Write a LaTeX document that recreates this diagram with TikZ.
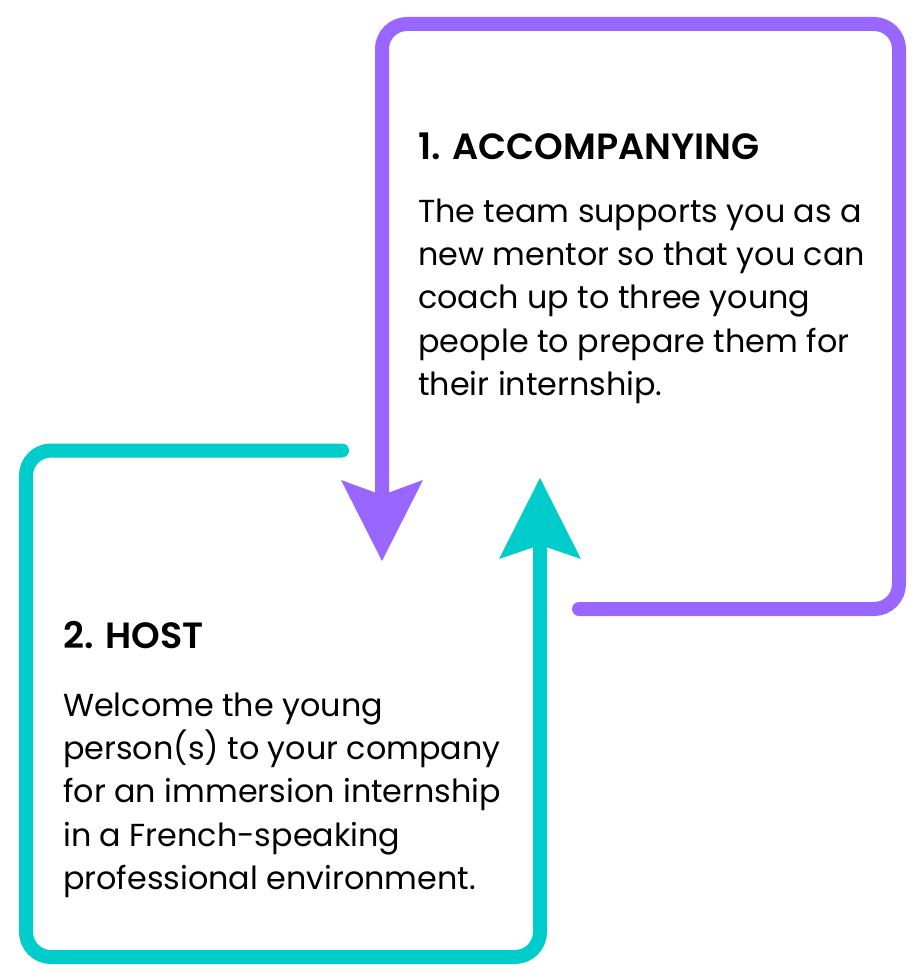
\documentclass[tikz,border=0pt]{standalone}
\usepackage{fontspec}
\setmainfont{Poppins}[BoldFont={Poppins SemiBold}]
\definecolor{vio}{RGB}{153,102,255}
\definecolor{cya}{RGB}{0,204,204}
\begin{document}
\begin{tikzpicture}[x=1pt,y=-1pt,
  loopline/.style={line width=14pt, rounded corners=25pt, line cap=round},
  ttl/.style={anchor=base west, inner sep=0pt, font=\fontsize{36.5}{40}\selectfont\bfseries},
  txt/.style={anchor=base west, inner sep=0pt, font=\fontsize{31.8}{40}\selectfont}]
\useasboundingbox (0,0) rectangle (922,974);
\fill[white] (0,0) rectangle (922,974);
% purple loop
\coordinate (pstart) at (579,609);
\coordinate (pend) at (382,500);
\draw[loopline, vio] (pstart) -- (899,609) -- (899,24) -- (382,24) -- (pend);
\fill[vio] (382,561) -- (341,480) -- (382,495) -- (423,480) -- cycle;
% cyan loop
\coordinate (cstart) at (342,450.5);
\coordinate (cend) at (540,540);
\draw[loopline, cya] (cstart) -- (26,450.5) -- (26,957) -- (540,957) -- (cend);
\fill[cya] (540,478) -- (581,559) -- (540,545) -- (499,559) -- cycle;
% texts
\node[ttl] (t1) at (418,159) {1. ACCOMPANYING};
\node[txt] (a1) at (418,222) {The team supports you as a};
\node[txt] (a2) at (418,265.3) {new mentor so that you can};
\node[txt] (a3) at (418,308.6) {coach up to three young};
\node[txt] (a4) at (418,352) {people to prepare them for};
\node[txt] (a5) at (418,395) {their internship.};
\node[ttl] (t2) at (63,648) {2. HOST};
\node[txt] (b1) at (63,716) {Welcome the young};
\node[txt] (b2) at (63,759.3) {person(s) to your company};
\node[txt] (b3) at (63,802.6) {for an immersion internship};
\node[txt] (b4) at (63,846) {in a French-speaking};
\node[txt] (b5) at (63,889) {professional environment.};
\end{tikzpicture}
\end{document}
